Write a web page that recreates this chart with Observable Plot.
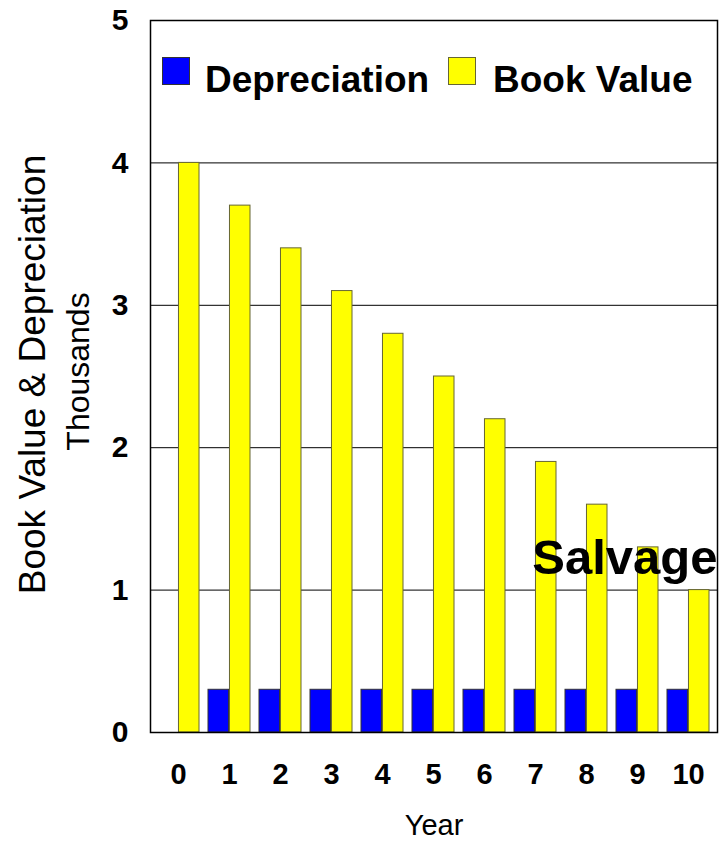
<!DOCTYPE html>
<html>
<head>
<meta charset="utf-8">
<script src="https://cdn.jsdelivr.net/npm/d3@7"></script>
<script src="https://cdn.jsdelivr.net/npm/@observablehq/plot@0.6"></script>
<style>
  html, body { margin: 0; padding: 0; background: #fff; }
  #wrap { position: relative; width: 723px; height: 842px; font-family: "Liberation Sans", Arial, sans-serif; }
  #wrap svg { position: absolute; left: 0; top: 0; }
  .sw { position: absolute; width: 26px; height: 26px; border: 1px solid #333; }
  .lt { position: absolute; font-weight: bold; font-size: 37px; line-height: 37px; color: #000; white-space: nowrap; }
</style>
</head>
<body>
<div id="wrap"></div>
<script>
const years = [0, 1, 2, 3, 4, 5, 6, 7, 8, 9, 10];
const depreciation = [null, 0.3, 0.3, 0.3, 0.3, 0.3, 0.3, 0.3, 0.3, 0.3, 0.3];
const bookValue = [4.0, 3.7, 3.4, 3.1, 2.8, 2.5, 2.2, 1.9, 1.6, 1.3, 1.0];
const yTicks = [0, 1, 2, 3, 4, 5];
const gridValues = [1, 2, 3, 4];
const seriesNames = ["Depreciation", "Book Value"];
const seriesColors = ["#0000ff", "#ffff00"];
const salvageLabel = "Salvage";
const salvageValue = bookValue[bookValue.length - 1];

const W = 723, H = 842;
const mL = 150, mR = 6, mT = 20, mB = 110;
const pIn = 0.167, pOut = 0.083;
const step = (W - mL - mR) / (years.length - pIn + 2 * pOut);
const half = step * (1 - pIn) / 2;

const depData = years.map((y, i) => ({year: y, value: depreciation[i]})).filter(d => d.value != null);
const bvData = years.map((y, i) => ({year: y, value: bookValue[i]}));

const font = "'Liberation Sans', Arial, sans-serif";

const chart = Plot.plot({
  width: W,
  height: H,
  marginLeft: mL,
  marginRight: mR,
  marginTop: mT,
  marginBottom: mB,
  style: {fontFamily: font, background: "white", overflow: "visible"},
  x: {type: "band", domain: years, paddingInner: pIn, paddingOuter: pOut, align: 0.5, label: null},
  y: {domain: [0, 5], label: null},
  marks: [
    Plot.ruleY(gridValues, {stroke: "#000", strokeWidth: 1}),
    Plot.barY(depData, {x: "year", y: "value", fill: seriesColors[0], stroke: "#333", strokeWidth: 1, insetRight: half}),
    Plot.barY(bvData, {x: "year", y: "value", fill: seriesColors[1], stroke: "#666633", strokeWidth: 1, insetLeft: half}),
    Plot.frame({stroke: "#000", strokeWidth: 1.5}),
    Plot.axisY({ticks: yTicks, tickSize: 0, tickPadding: 22, fontSize: 30, fontWeight: "bold", label: null, tickFormat: d => String(d)}),
    Plot.axisX({ticks: years, tickSize: 0, tickPadding: 31, fontSize: 29, fontWeight: "bold", label: null}),
    Plot.text(["Year"], {frameAnchor: "bottom", text: d => d, dy: 93, fontSize: 29, lineAnchor: "middle"}),
    Plot.text(["Book Value & Depreciation"], {frameAnchor: "left", text: d => d, rotate: -90, textAnchor: "middle", dx: -117, dy: -2, fontSize: 37}),
    Plot.text(["Thousands"], {frameAnchor: "left", text: d => d, rotate: -90, textAnchor: "middle", dx: -72, dy: -5, fontSize: 32}),
    Plot.text([{v: salvageValue}], {frameAnchor: "right", y: "v", text: () => salvageLabel, textAnchor: "end", lineAnchor: "bottom", dy: -16, fontSize: 49, fontWeight: "bold", fill: "#000"})
  ]
});

const wrap = document.getElementById("wrap");
wrap.appendChild(chart);

const swatchLeft = [162, 448];
const textLeft = [205, 493];
seriesNames.forEach((name, i) => {
  const sw = document.createElement("div");
  sw.className = "sw";
  sw.style.left = swatchLeft[i] + "px";
  sw.style.top = "57px";
  sw.style.background = seriesColors[i];
  if (i === 1) sw.style.borderColor = "#666633";
  wrap.appendChild(sw);
  const t = document.createElement("div");
  t.className = "lt";
  t.style.left = textLeft[i] + "px";
  t.style.top = "61px";
  t.textContent = name;
  wrap.appendChild(t);
});
</script>
</body>
</html>
